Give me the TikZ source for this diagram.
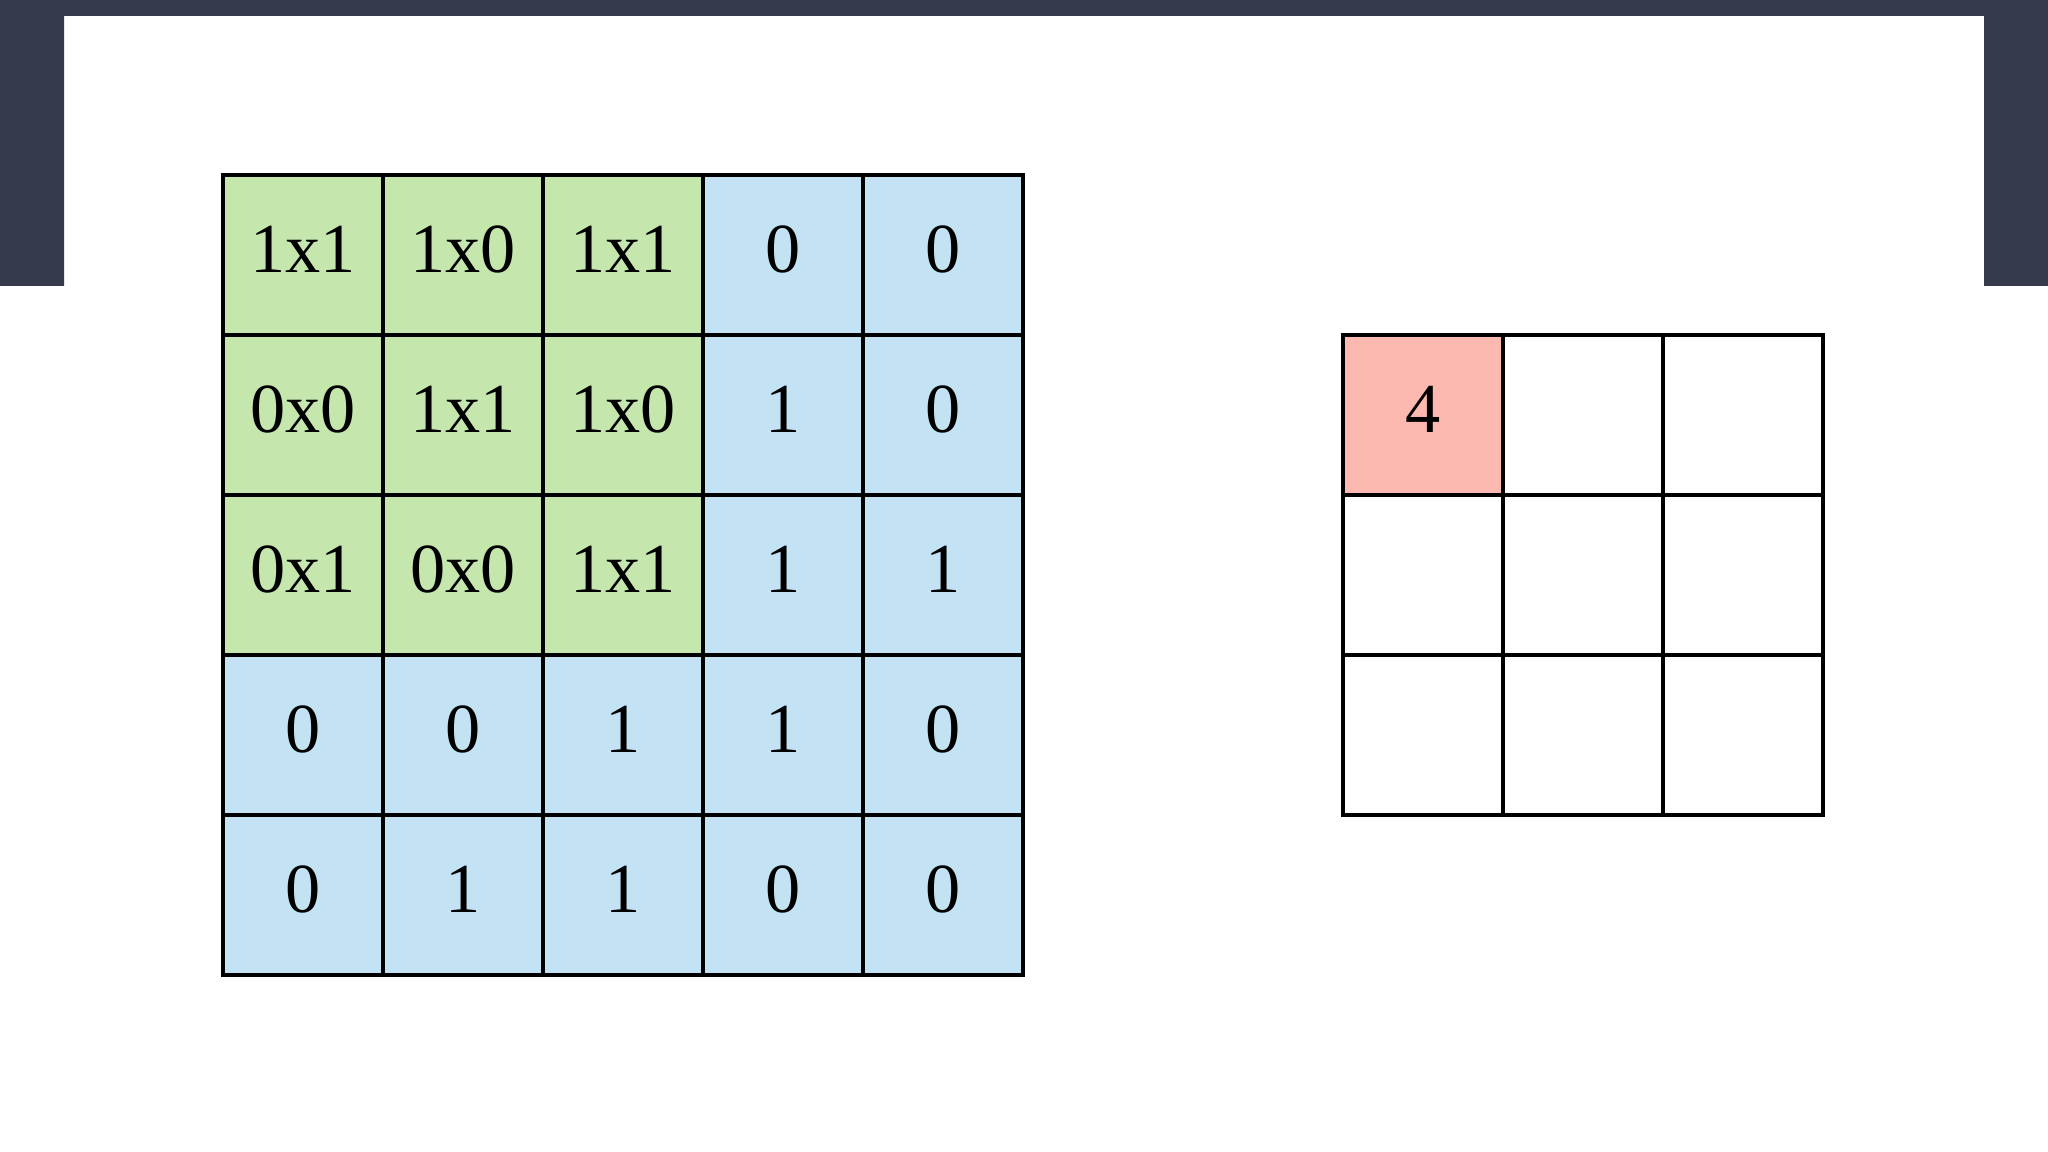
\documentclass[tikz,border=0pt]{standalone}
\usepackage{fontspec}
\setmainfont{Liberation Serif}
\usetikzlibrary{calc}
\definecolor{framedark}{HTML}{363A4D}
\definecolor{kgreen}{HTML}{C5E7AE}
\definecolor{iblue}{HTML}{C3E3F5}
\definecolor{opink}{HTML}{FDB8B0}
\tikzset{
    cell/.style={draw, line width=0.04cm, minimum size=1.6cm, inner sep=0pt,
        font=\fontsize{20}{24}\selectfont, text height=0.48cm, text depth=0.13cm},
}
\begin{document}
\begin{tikzpicture}
    \useasboundingbox (0,0) rectangle (20.48,11.52);
    \fill[white] (0,0) rectangle (20.48,11.52);
    % dark frame at the top
    \fill[framedark] (0,11.52) -- (20.48,11.52) -- (20.48,8.66) -- (19.84,8.66)
        -- (19.84,11.36) -- (0.64,11.36) -- (0.64,8.66) -- (0,8.66) -- cycle;

    \coordinate (in0) at (2.23,9.77);
    \coordinate (out0) at (13.43,8.17);

    % input with the kernel on it
    \foreach \vals [count=\r] in {{1x1,1x0,1x1,0,0},{0x0,1x1,1x0,1,0},{0x1,0x0,1x1,1,1},{0,0,1,1,0},{0,1,1,0,0}}{
	\foreach \v [count=\c] in \vals {
	    \ifnum\r<4 \ifnum\c<4 \def\cellfill{kgreen}\else\def\cellfill{iblue}\fi
	    \else \def\cellfill{iblue}\fi
	    \node [cell, fill=\cellfill] (in-\r-\c) at ($(in0)+(1.6*\c-0.8,-1.6*\r+0.8)$) {\v};
	}
    }

    % output, first value filled in
    \foreach \r in {1,2,3}{
	\foreach \c in {1,2,3}{
	    \ifnum\r\c=11 \def\cellfill{opink}\def\cellval{4}\else\def\cellfill{white}\def\cellval{}\fi
	    \node [cell, fill=\cellfill] (out-\r-\c) at ($(out0)+(1.6*\c-0.8,-1.6*\r+0.8)$) {\cellval};
	}
    }
    \end{tikzpicture}
\end{document}
